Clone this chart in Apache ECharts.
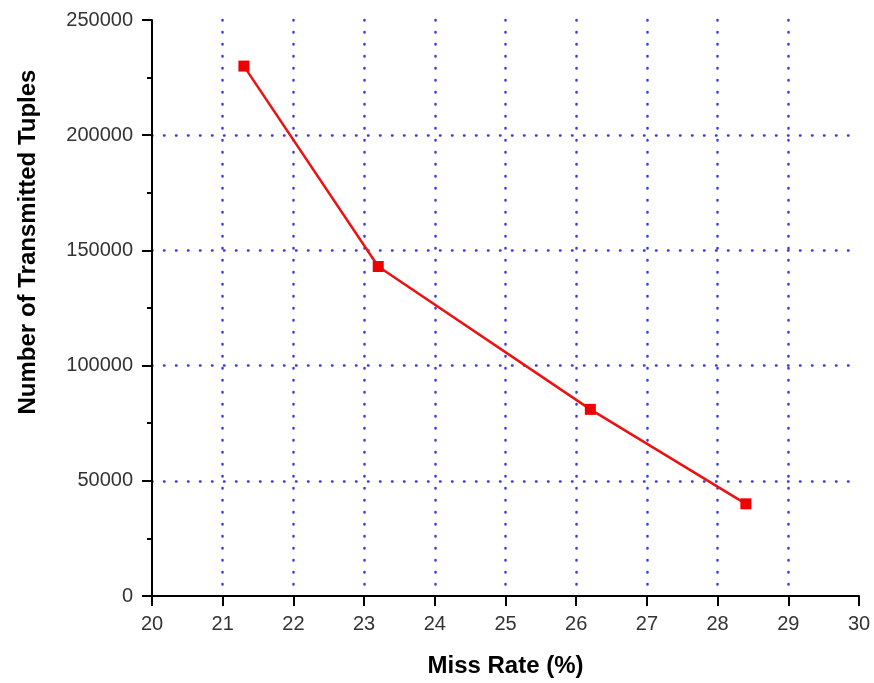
<!DOCTYPE html>
<html>
<head>
<meta charset="utf-8">
<script src="https://cdn.jsdelivr.net/npm/echarts@6/dist/echarts.min.js"></script>
<style>html,body{margin:0;padding:0;background:#fff}#c{width:874px;height:683px}</style>
</head>
<body>
<div id="c"></div>
<script>
const missRate = [21.3, 23.2, 26.2, 28.4];
const tuples = [230000, 143000, 81000, 40000];
const xTitle = 'Miss Rate (%)';
const yTitle = 'Number of Transmitted Tuples';

const chart = echarts.init(document.getElementById('c'));
const font = 'Liberation Sans, Arial, sans-serif';
const gridLine = { show: true, showMinLine: false, showMaxLine: false,
  lineStyle: { color: '#3a3ae0', width: 2.5, type: [0.5, 11.5], cap: 'round' } };
chart.setOption({
  animation: false,
  grid: { left: 152, right: 15, top: 20, bottom: 87 },
  xAxis: {
    type: 'value', min: 20, max: 30, interval: 1,
    name: xTitle, nameLocation: 'middle', nameGap: 58,
    nameTextStyle: { fontFamily: font, fontSize: 24, fontWeight: 'bold', color: '#000' },
    axisLine: { show: true, onZero: false, lineStyle: { color: '#000', width: 2 } },
    axisTick: { show: true, length: 10, lineStyle: { color: '#000', width: 2 } },
    axisLabel: { fontFamily: font, fontSize: 20, color: '#333', margin: 18 },
    splitLine: gridLine
  },
  yAxis: {
    type: 'value', min: 0, max: 250000, interval: 50000,
    axisLine: { show: true, onZero: false, lineStyle: { color: '#000', width: 2 } },
    axisTick: { show: true, length: 10, lineStyle: { color: '#000', width: 2 } },
    minorTick: { show: true, splitNumber: 2, length: 5, lineStyle: { color: '#000', width: 2 } },
    axisLabel: { fontFamily: font, fontSize: 20, color: '#333', margin: 19, formatter: v => String(v) },
    splitLine: gridLine
  },
  graphic: [{
    type: 'text', x: 28, y: 242, rotation: Math.PI / 2,
    style: { text: yTitle, font: 'bold 24px ' + font, fill: '#000', align: 'center', verticalAlign: 'middle' }
  }],
  series: [{
    type: 'line',
    data: missRate.map((x, i) => [x, tuples[i]]),
    symbol: 'rect', symbolSize: 11,
    lineStyle: { color: '#ee1111', width: 2.5 },
    itemStyle: { color: '#ee0000' }
  }]
});
</script>
</body>
</html>
